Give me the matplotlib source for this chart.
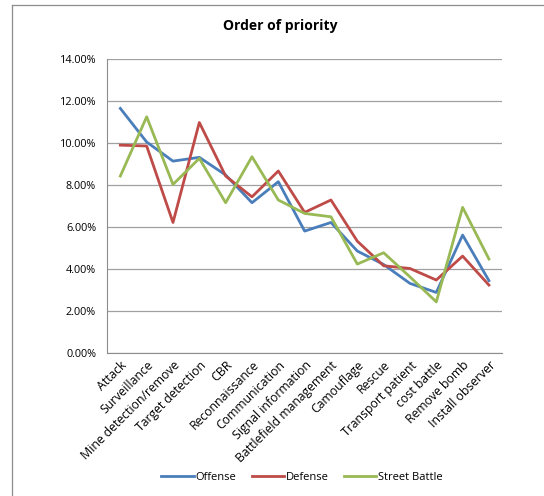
import matplotlib
matplotlib.use("Agg")

import matplotlib.pyplot as plt
from matplotlib.ticker import FuncFormatter
from matplotlib.lines import Line2D

categories = ["Attack", "Surveillance", "Mine detection/remove", "Target detection", "CBR",
              "Reconnaissance", "Communication", "Signal information", "Battlefield management",
              "Camouflage", "Rescue", "Transport patient", "cost battle", "Remove bomb",
              "Install observer"]
offense = [11.65, 10.05, 9.14, 9.32, 8.48, 7.16, 8.16, 5.81, 6.22, 4.86, 4.22, 3.32, 2.89, 5.62, 3.45]
defense = [9.9, 9.86, 6.22, 10.98, 8.43, 7.44, 8.67, 6.7, 7.29, 5.33, 4.16, 4.03, 3.48, 4.62, 3.24]
street = [8.43, 11.25, 8.03, 9.27, 7.16, 9.35, 7.29, 6.65, 6.49, 4.24, 4.78, 3.63, 2.44, 6.94, 4.48]

plt.rcParams['font.family'] = ['Open Sans', 'DejaVu Sans']

fig = plt.figure(figsize=(5.44, 4.96), dpi=100)
ax = fig.add_axes([0.197, 0.288, 0.726, 0.593])

x = range(len(categories))
ax.plot(x, offense, color="#4a7ebb", lw=2.0, label="Offense")
ax.plot(x, defense, color="#be4b48", lw=2.0, label="Defense")
ax.plot(x, street, color="#98b954", lw=2.0, label="Street Battle")

ax.set_xlim(-0.5, len(categories) - 0.5)
ax.set_ylim(0, 14)
ax.set_yticks(range(0, 15, 2))
ax.yaxis.set_major_formatter(FuncFormatter(lambda v, p: "%.2f%%" % v))
ax.grid(axis="y", color="#a0a0a0", lw=0.9)
ax.set_axisbelow(True)
ax.set_xticks(list(x))
ax.set_xticklabels(categories, rotation=45, ha="right", rotation_mode="anchor", fontsize=8.8)
ax.tick_params(axis="y", labelsize=7.8, length=0, pad=8)
ax.tick_params(axis="x", length=0, pad=4)
for s in ["top", "right"]:
    ax.spines[s].set_visible(False)
for s in ["left", "bottom"]:
    ax.spines[s].set_color("#8c8c8c")

fig.text(0.515, 0.948, "Order of priority", ha="center", va="center", fontsize=10, fontweight="bold")
fig.legend(loc="center", bbox_to_anchor=(0.555, 0.037), ncol=3, frameon=False, fontsize=8,
           handlelength=2.9, columnspacing=1.4, handletextpad=0.15)

# chart area border (only top and left edges visible in the crop)
fig.lines.append(Line2D([0.022, 1.0], [0.99, 0.99], transform=fig.transFigure, color="#8c8c8c", lw=0.9))
fig.lines.append(Line2D([0.022, 0.022], [0.0, 0.99], transform=fig.transFigure, color="#8c8c8c", lw=0.9))

plt.savefig("out.png", dpi=100)
